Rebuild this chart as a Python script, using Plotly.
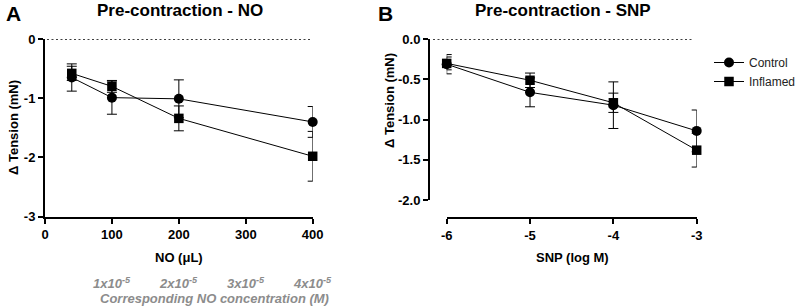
import plotly.graph_objects as go

W, H = 796, 308

# Panel A data
no_x = [40, 100, 200, 400]
no_ctrl = [-0.65, -0.99, -1.01, -1.40]
no_ctrl_err = [0.23, 0.28, 0.32, 0.26]
no_infl = [-0.58, -0.80, -1.34, -1.98]
no_infl_err = [0.12, 0.10, 0.21, 0.42]
no_ticks = [0, 100, 200, 300, 400]
no_tick_labels = ["0", "100", "200", "300", "400"]
no_yticks = [0, -1, -2, -3]
no_ytick_labels = ["0", "-1", "-2", "-3"]
conc_pos = [100, 200, 300, 400]
conc_labels = ["1x10<sup>-5</sup>", "2x10<sup>-5</sup>", "3x10<sup>-5</sup>", "4x10<sup>-5</sup>"]

# Panel B data
snp_x = [-6, -5, -4, -3]
snp_ctrl = [-0.31, -0.66, -0.82, -1.14]
snp_ctrl_err = [0.12, 0.18, 0.29, 0.26]
snp_infl = [-0.30, -0.51, -0.79, -1.38]
snp_infl_err = [0.08, 0.09, 0.12, 0.21]
snp_ticks = [-6, -5, -4, -3]
snp_tick_labels = ["-6", "-5", "-4", "-3"]
snp_yticks = [0.0, -0.5, -1.0, -1.5, -2.0]
snp_ytick_labels = ["0.0", "-0.5", "-1.0", "-1.5", "-2.0"]

def px(x):
    return x / W

def py(y):
    return 1 - y / H

FONT = "Liberation Sans, Arial, sans-serif"
fig = go.Figure()

def add_series(x, y, err, sym, name, xa, ya, show):
    fig.add_trace(go.Scatter(
        x=x, y=y, mode="lines+markers", name=name, showlegend=show,
        xaxis=xa, yaxis=ya, cliponaxis=False,
        line=dict(color="black", width=1),
        marker=dict(symbol=sym, size=10 if sym == "circle" else 9.5, color="black"),
        error_y=dict(type="data", array=err, visible=True, color="black", thickness=1, width=5),
    ))

add_series(no_x, no_ctrl, no_ctrl_err, "circle", "Control", "x", "y", False)
add_series(no_x, no_infl, no_infl_err, "square", "Inflamed", "x", "y", False)
add_series(snp_x, snp_ctrl, snp_ctrl_err, "circle", "Control", "x2", "y2", True)
add_series(snp_x, snp_infl, snp_infl_err, "square", "Inflamed", "x2", "y2", True)

def bold(lst):
    return ["<b>" + s + "</b>" for s in lst]

tickfont = dict(family=FONT, size=13, color="black")
axcommon = dict(showgrid=False, zeroline=False, showline=True, linecolor="black", linewidth=2,
                ticks="outside", tickcolor="black", tickwidth=2, ticklen=5, tickfont=tickfont,
                automargin=False)

fig.update_layout(
    width=W, height=H, margin=dict(l=0, r=0, t=0, b=0, autoexpand=False),
    paper_bgcolor="white", plot_bgcolor="white",
    xaxis=dict(domain=[px(45), px(312.7)], range=[0, 400], tickvals=no_ticks,
               ticktext=bold(no_tick_labels), anchor="y", **axcommon),
    yaxis=dict(domain=[py(216.7), py(39)], range=[-3, 0], tickvals=no_yticks,
               ticktext=bold(no_ytick_labels), anchor="x", **axcommon),
    xaxis2=dict(domain=[px(446.7), px(696.7)], range=[-6, -3], tickvals=snp_ticks,
                ticktext=bold(snp_tick_labels), anchor="free", position=py(218.3), **axcommon),
    yaxis2=dict(domain=[py(200), py(39.3)], range=[-2, 0], tickvals=snp_yticks,
                ticktext=bold(snp_ytick_labels), anchor="free", position=px(429), **axcommon),
    legend=dict(x=px(709), y=py(48), xanchor="left", yanchor="top", bgcolor="rgba(0,0,0,0)",
                font=dict(family=FONT, size=12, color="#222"), tracegroupgap=0, itemwidth=30),
    showlegend=True,
)

# dotted zero lines
fig.add_shape(type="line", xref="paper", yref="y", x0=px(47), x1=px(310), y0=0, y1=0,
              line=dict(color="black", width=1.5, dash="2px,2.5px"))
fig.add_shape(type="line", xref="paper", yref="y2", x0=px(433), x1=px(694), y0=0, y1=0,
              line=dict(color="black", width=1.5, dash="2px,2.5px"))

ann = []
def a(text, x, y, size, bold=True, color="black", italic=False, angle=0):
    t = text
    if italic:
        t = "<i>" + t + "</i>"
    if bold:
        t = "<b>" + t + "</b>"
    ann.append(dict(text=t, x=px(x), y=py(y), xref="paper", yref="paper", showarrow=False,
                    xanchor="center", yanchor="middle", textangle=angle,
                    font=dict(family=FONT, size=size, color=color)))

a("A", 13, 14, 21)
a("B", 385, 14, 21)
a("Pre-contraction - NO", 180, 11, 17)
a("Pre-contraction - SNP", 563, 11, 17)
a("Δ Tension (mN)", 13, 128, 13, angle=-90)
a("Δ Tension (mN)", 389, 101, 13, angle=-90)
a("NO (μL)", 179, 257, 13)
a("SNP (log M)", 572, 257, 13)
for p, lab in zip(conc_pos, conc_labels):
    ann.append(dict(text="<b><i>" + lab + "</i></b>", x=p, y=py(283), xref="x", yref="paper",
                    showarrow=False, xanchor="center", yanchor="middle",
                    font=dict(family=FONT, size=13, color="#8c8c8c")))
a("Corresponding NO concentration (M)", 214, 298, 13, color="#8c8c8c", italic=True)
fig.update_layout(annotations=ann)

fig.write_html("out.html", config={"displayModeBar": False},
               post_script="document.body.style.margin='0';document.body.style.overflow='hidden';")
